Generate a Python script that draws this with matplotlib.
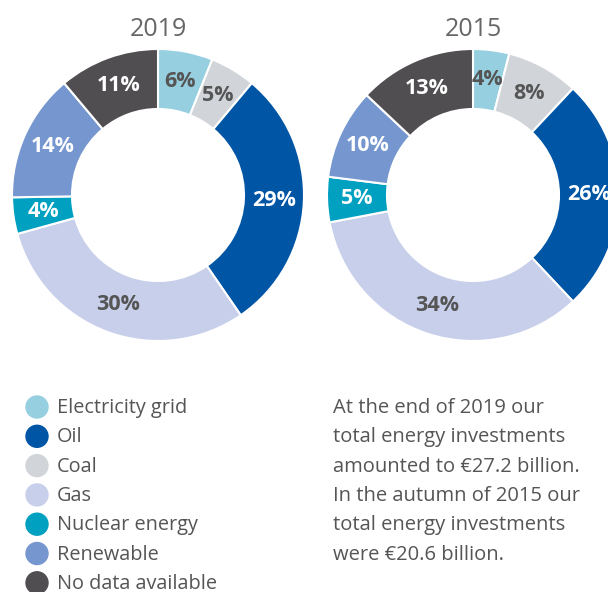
import matplotlib.pyplot as plt
from matplotlib.patches import Circle

plt.rcParams['font.family'] = ['Open Sans', 'DejaVu Sans']

# data
categories = ['Electricity grid', 'Coal', 'Oil', 'Gas', 'Nuclear energy', 'Renewable', 'No data available']
share_2019 = [6, 5, 29, 30, 4, 14, 11]
share_2015 = [4, 8, 26, 34, 5, 10, 13]
legend_order = ['Electricity grid', 'Oil', 'Coal', 'Gas', 'Nuclear energy', 'Renewable', 'No data available']

colors = {
    'Electricity grid': '#96cfe0',
    'Oil': '#0055a5',
    'Coal': '#d1d5d9',
    'Gas': '#c8cfea',
    'Nuclear energy': '#00a0c0',
    'Renewable': '#7596cf',
    'No data available': '#504e50',
}
dark = {'Oil', 'Nuclear energy', 'Renewable', 'No data available'}
grey = '#555555'

note_lines = ['At the end of 2019 our',
              'total energy investments',
              'amounted to \u20ac27.2 billion.',
              'In the autumn of 2015 our',
              'total energy investments',
              'were \u20ac20.6 billion.']

W, H = 608, 592
fig = plt.figure(figsize=(W / 100, H / 100), dpi=100)
ax = fig.add_axes([0, 0, 1, 1])

R = 146
width = 60


def donut(cx, cy, values, title):
    wedges, texts = ax.pie(values, colors=[colors[c] for c in categories],
                           startangle=90, counterclock=False,
                           center=(cx, cy), radius=R,
                           labels=[f'{v}%' for v in values],
                           labeldistance=(R - width / 2) / R,
                           wedgeprops=dict(width=width, edgecolor='white', linewidth=1.5),
                           textprops=dict(fontsize=15.5, fontweight='bold', ha='center', va='center'),
                           frame=True)
    for t, c in zip(texts, categories):
        t.set_color('white' if c in dark else grey)
        t.set_ha('center')
    ax.text(cx, H - 30, title, fontsize=18, color='#666666', ha='center', va='center')


donut(158, H - 195, share_2019, '2019')
donut(473, H - 195, share_2015, '2015')
ax.set_xlim(0, W)
ax.set_ylim(0, H)
ax.set_aspect('equal')
ax.axis('off')

# legend
y0, step = 407, 29.3
for i, c in enumerate(legend_order):
    y = H - (y0 + i * step)
    ax.add_patch(Circle((37, y), 11, color=colors[c], clip_on=False))
    ax.text(57, y - 1, c, fontsize=14.3, color=grey, va='center', ha='left')

# note
for i, line in enumerate(note_lines):
    ax.text(333, H - (y0 + i * step) - 1, line, fontsize=14.5, color=grey, va='center', ha='left')

fig.savefig('out.png', dpi=100)
